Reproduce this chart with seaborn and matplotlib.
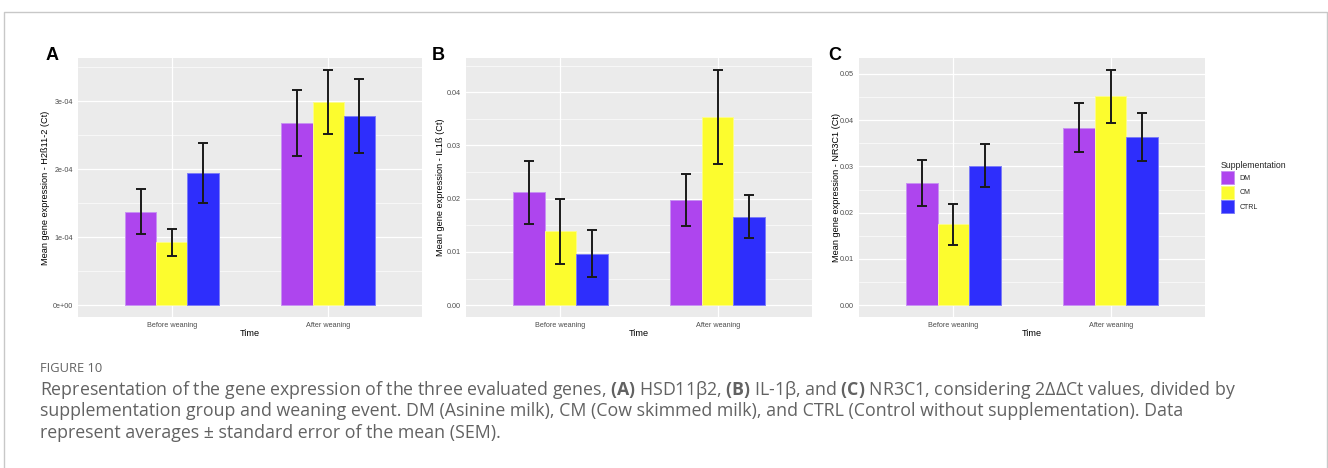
import pandas as pd
import seaborn as sns
import matplotlib.pyplot as plt
from matplotlib.patches import Patch
from matplotlib.lines import Line2D
from matplotlib.ticker import FixedLocator

# categories
times = ["Before weaning", "After weaning"]
groups = ["DM", "CM", "CTRL"]
colors = ["#AE45EE", "#FCFC2E", "#2E2EFC"]
edges = ["#C792F2", "#FCFC8A", "#7C7CF8"]

# means / SEM, order: DM-before, CM-before, CTRL-before, DM-after, CM-after, CTRL-after
hsd_mean = [1.375e-4, 0.925e-4, 1.945e-4, 2.68e-4, 2.985e-4, 2.78e-4]
hsd_se = [0.33e-4, 0.20e-4, 0.445e-4, 0.48e-4, 0.475e-4, 0.545e-4]
il1_mean = [0.0212, 0.0139, 0.0097, 0.0197, 0.0354, 0.0166]
il1_se = [0.0059, 0.0061, 0.00445, 0.00485, 0.0088, 0.0040]
nr3_mean = [0.0264, 0.0175, 0.0302, 0.0384, 0.0452, 0.0364]
nr3_se = [0.0049, 0.0044, 0.0047, 0.0053, 0.0057, 0.0052]

hsd_ticks = [0, 1e-4, 2e-4, 3e-4]
hsd_labels = ["0e+00", "1e-04", "2e-04", "3e-04"]
il1_ticks = [0, 0.01, 0.02, 0.03, 0.04]
il1_labels = ["0.00", "0.01", "0.02", "0.03", "0.04"]
nr3_ticks = [0, 0.01, 0.02, 0.03, 0.04, 0.05]
nr3_labels = ["0.00", "0.01", "0.02", "0.03", "0.04", "0.05"]

panels = [
    ("A", "Mean gene expression - H2ß11-2 (Ct)", hsd_mean, hsd_se, hsd_ticks, hsd_labels),
    ("B", "Mean gene expression - IL1ß (Ct)", il1_mean, il1_se, il1_ticks, il1_labels),
    ("C", "Mean gene expression - NR3C1 (Ct)", nr3_mean, nr3_se, nr3_ticks, nr3_labels),
]

sns.set_theme(style="darkgrid", rc={
    "axes.facecolor": "#EBEBEB",
    "grid.color": "white",
    "figure.facecolor": "white",
})
plt.rcParams["font.family"] = ["Liberation Sans", "DejaVu Sans"]
plt.rcParams["mathtext.fontset"] = "custom"
plt.rcParams["mathtext.rm"] = "Open Sans"
plt.rcParams["mathtext.bf"] = "Open Sans:bold"

W, H = 1328, 468
fig = plt.figure(figsize=(W / 100, H / 100), dpi=100)

# pixel boxes (left, top, right, bottom) for each panel
boxes = [(78, 58, 422, 317), (466, 58, 812, 317), (859, 58, 1205, 317)]
label_x = [50, 445, 841]
letter_x = [46, 432, 828]

for (letter, ylab, means, ses, ticks, tlabels), box, lx, ltx in zip(panels, boxes, label_x, letter_x):
    l, t, r, b = box
    ax = fig.add_axes([l / W, 1 - b / H, (r - l) / W, (b - t) / H])
    df = pd.DataFrame({
        "time": [tm for tm in times for g in groups],
        "group": [g for tm in times for g in groups],
        "mean": means,
        "se": ses,
    })
    sns.barplot(data=df, x="time", y="mean", hue="group", order=times, hue_order=groups,
                palette=colors, saturation=1, width=0.6, errorbar=None, legend=False, ax=ax)

    for cont, g, ec in zip(ax.containers, groups, edges):
        xs, ys, es = [], [], []
        for bar, tm in zip(cont, times):
            bar.set_edgecolor(ec)
            bar.set_linewidth(0.7)
            row = df[(df["time"] == tm) & (df["group"] == g)].iloc[0]
            xs.append(bar.get_x() + bar.get_width() / 2)
            ys.append(row["mean"])
            es.append(row["se"])
        ax.errorbar(xs, ys, yerr=es, fmt="none", ecolor="#1a1a1a", elinewidth=1.4,
                    capsize=3.6, capthick=1.4, zorder=5)

    top = max(m + s for m, s in zip(means, ses))
    ax.set_ylim(-0.05 * top, 1.05 * top)
    ax.set_xlim(-0.6, 1.6)
    ax.set_yticks(ticks)
    ax.set_yticklabels(tlabels)
    step = ticks[1] - ticks[0]
    minors = [tk + step / 2 for tk in ticks] + [ticks[0] - step / 2]
    ax.yaxis.set_minor_locator(FixedLocator(minors))

    ax.xaxis.grid(True, which="major", color="white", lw=0.9)
    ax.yaxis.grid(True, which="major", color="white", lw=0.9)
    ax.yaxis.grid(True, which="minor", color="white", lw=0.45)
    ax.set_axisbelow(True)
    for sp in ax.spines.values():
        sp.set_visible(False)

    ax.tick_params(axis="both", which="major", length=2, width=0.7, color="#333333",
                   labelsize=5.2, labelcolor="#4D4D4D", pad=1.5)
    ax.tick_params(axis="y", which="minor", length=0)
    ax.set_xlabel("Time", fontsize=6.6, color="black")
    ax.set_ylabel(ylab, fontsize=6.6, color="black")
    ax.xaxis.set_label_coords(0.5, -0.045)
    ax.yaxis.set_label_coords((lx - l) / (r - l), 0.5)

    fig.text(ltx / W, 1 - 56 / H, letter, fontsize=13, fontweight="bold",
             ha="left", va="center", color="black")

# legend
handles = [Patch(facecolor=c, edgecolor=e, linewidth=0.7) for c, e in zip(colors, edges)]
leg = fig.legend(handles, groups, title="Supplementation", loc="upper left",
                 bbox_to_anchor=(1221 / W, 1 - 161 / H), frameon=False, fontsize=5,
                 title_fontsize=6.3, handlelength=1.85, handleheight=2.6,
                 labelspacing=0.15, handletextpad=0.8, borderpad=0, borderaxespad=0,
                 alignment="left")

# page frame
fig.add_artist(Line2D([4 / W, 4 / W, 1327 / W, 1327 / W], [0, 1 - 12 / H, 1 - 12 / H, 0],
                      transform=fig.transFigure, color="#C8C8C8", lw=1))

# caption
cap_color = "#626262"
fig.text(40 / W, 1 - 368 / H, "FIGURE 10", fontsize=9.3, color=cap_color,
         family=["Open Sans", "DejaVu Sans"], ha="left", va="center")
cap_lines = [
    r"Representation of the gene expression of the three evaluated genes, $\mathbf{(A)}$ HSD11β2, "
    r"$\mathbf{(B)}$ IL-1β, and $\mathbf{(C)}$ NR3C1, considering 2ΔΔCt values, divided by",
    "supplementation group and weaning event. DM (Asinine milk), CM (Cow skimmed milk), "
    "and CTRL (Control without supplementation). Data",
    "represent averages ± standard error of the mean (SEM).",
]
for i, line in enumerate(cap_lines):
    fig.text(40 / W, 1 - (390 + 21.5 * i) / H, line, fontsize=12.8, color=cap_color,
             family=["Open Sans", "DejaVu Sans"], ha="left", va="center")

fig.savefig("out.png", dpi=100)
